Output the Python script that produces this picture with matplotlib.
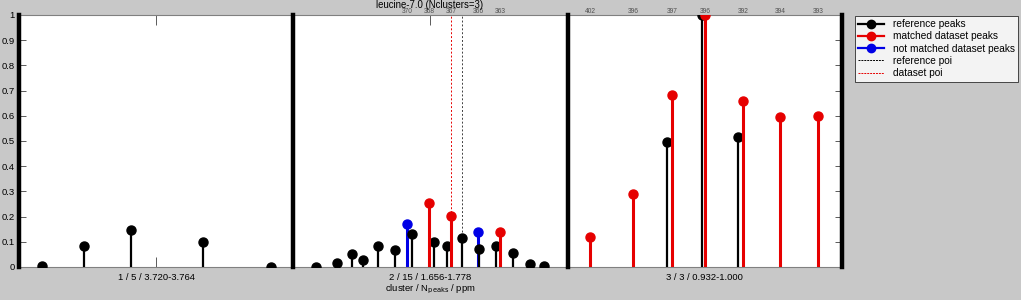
import matplotlib.pyplot as plt
from matplotlib.lines import Line2D
from matplotlib.legend_handler import HandlerLine2D
import numpy as np

plt.rcParams['font.family'] = ['Liberation Sans', 'DejaVu Sans']

# x positions are on a composite axis: cluster k spans [k-1, k]
cluster_labels = ['1 / 5 / 3.720-3.764', '2 / 15 / 1.656-1.778', '3 / 3 / 0.932-1.000']

ref_x = [0.084, 0.237, 0.408, 0.671, 0.919,
         1.083, 1.159, 1.214, 1.254, 1.309, 1.371, 1.433, 1.513, 1.560, 1.615,
         1.677, 1.739, 1.801, 1.863, 1.914,
         2.362, 2.490, 2.621]
ref_y = [0.005, 0.083, 0.146, 0.099, 0.0,
         0.0, 0.015, 0.05, 0.026, 0.083, 0.067, 0.13, 0.10, 0.083, 0.114,
         0.07, 0.083, 0.056, 0.011, 0.005,
         0.496, 1.0, 0.516]

matched_x = [1.495, 1.575, 1.754, 2.082, 2.238, 2.381, 2.501, 2.640, 2.774, 2.913]
matched_y = [0.255, 0.201, 0.14, 0.118, 0.288, 0.684, 1.0, 0.66, 0.595, 0.60]
matched_ids = ['368', '367', '363', '402', '396', '397', '396', '392', '394', '393']

unmatched_x = [1.415, 1.673]
unmatched_y = [0.17, 0.139]
unmatched_ids = ['370', '366']

ref_poi = 1.615
dataset_poi = 1.575

RED = '#e60000'
BLUE = '#0000e6'
BG = '#c8c8c8'


class EndMarker(HandlerLine2D):
    # stem-like legend entry: marker at the right end of the line
    def get_xdata(self, legend, xdescent, ydescent, width, height, fontsize):
        xdata, _ = super().get_xdata(legend, xdescent, ydescent, width, height, fontsize)
        return xdata, [xdata[-1]]


fig = plt.figure(figsize=(10.21, 3.0), dpi=100, facecolor=BG)
ax = fig.add_axes([0.0186, 0.11, 0.806, 0.84])

n_clusters = len(cluster_labels)
ax.set_xlim(0, n_clusters)
ax.set_ylim(0, 1)

ax.axvline(dataset_poi, color=RED, lw=0.7, ls=(0, (2, 2)), zorder=1)
ax.axvline(ref_poi, color='#404040', lw=0.7, ls=(0, (2, 2)), zorder=1)

ax.vlines(unmatched_x, 0, unmatched_y, color=BLUE, lw=2.2, zorder=2)
ax.plot(unmatched_x, unmatched_y, 'o', color=BLUE, ms=6.5, zorder=2)
ax.vlines(ref_x, 0, ref_y, color='black', lw=1.6, zorder=3)
ax.plot(ref_x, ref_y, 'o', color='black', ms=6.5, zorder=3)
ax.vlines(matched_x, 0, matched_y, color=RED, lw=2.2, zorder=4)
ax.plot(matched_x, matched_y, 'o', color=RED, ms=6.5, zorder=4)

for b in range(n_clusters + 1):
    ax.axvline(b, color='black', lw=3.2, zorder=5, clip_on=False)

for x, lab in zip(list(unmatched_x) + list(matched_x), unmatched_ids + matched_ids):
    ax.annotate(lab, (x, 1), xytext=(0, 1.2), textcoords='offset points',
                ha='center', va='baseline', fontsize=4.8, color='#505050',
                annotation_clip=False)

ax.set_xticks(np.arange(n_clusters) + 0.5)
ax.set_xticklabels(cluster_labels)
ax.set_yticks(np.linspace(0, 1, 11))
ax.set_yticklabels(['0', '0.1', '0.2', '0.3', '0.4', '0.5', '0.6', '0.7', '0.8', '0.9', '1'])
ax.tick_params(axis='x', direction='in', top=True, length=7, width=0.6,
               labelsize=6.8, pad=4, color='#404040')
ax.tick_params(axis='y', direction='in', right=True, length=5, width=0.6,
               labelsize=6.8, pad=3, color='#404040')
for s in ax.spines.values():
    s.set_color('#808080')
    s.set_linewidth(0.8)

ax.set_xlabel('cluster / N$_{\\mathrm{peaks}}$ / ppm', fontsize=6.8, labelpad=1)
fig.text(0.4212, 0.999, 'leucine-7.0 (Nclusters=3)', fontsize=6.9,
         ha='center', va='top')

handles = [
    Line2D([], [], color='black', lw=1.6, marker='o', ms=6),
    Line2D([], [], color=RED, lw=1.6, marker='o', ms=6),
    Line2D([], [], color=BLUE, lw=1.6, marker='o', ms=6),
    Line2D([], [], color='black', lw=0.7, ls=(0, (2, 1))),
    Line2D([], [], color=RED, lw=0.7, ls=(0, (2, 1))),
]
labels = ['reference peaks', 'matched dataset peaks', 'not matched dataset peaks',
          'reference poi', 'dataset poi']
leg = fig.legend(handles, labels, loc='upper left', bbox_to_anchor=(0.837, 0.948),
                 fontsize=7.3, frameon=True, fancybox=False, edgecolor='black',
                 handlelength=2.6, handletextpad=0.8, labelspacing=0.22,
                 borderpad=0.35, borderaxespad=0,
                 handler_map={Line2D: EndMarker()})
leg.get_frame().set_linewidth(0.6)

fig.savefig('out.png', dpi=100, facecolor=BG)
